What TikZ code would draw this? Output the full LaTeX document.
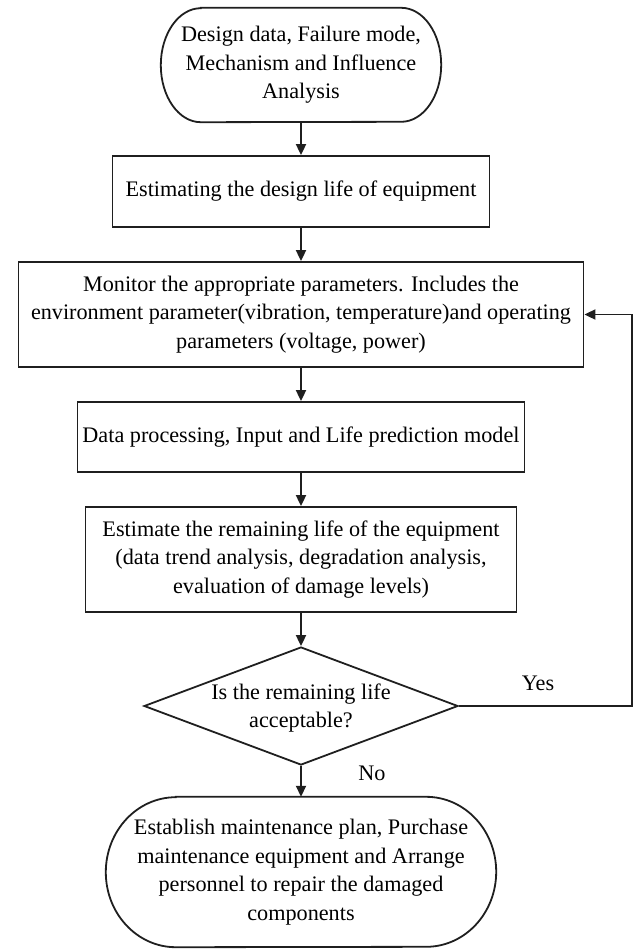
\documentclass[tikz,border=0pt]{standalone}
\usepackage{fontspec}
\setmainfont{Liberation Serif}
\usetikzlibrary{arrows.meta,shapes.geometric}

% outline of a terminal box: straight top and bottom, elliptic ends
\newcommand\termoutline[3]{%
  \draw[flow] ([xshift=#2]#1.north west) -- ([xshift=-#2]#1.north east)
    arc[start angle=90,end angle=-90,x radius=#2,y radius=#3]
    -- ([xshift=#2]#1.south west)
    arc[start angle=270,end angle=90,x radius=#2,y radius=#3] -- cycle;}

\begin{document}
\begin{tikzpicture}[x=1pt,y=-1pt,
  every node/.style={font=\rmfamily\fontsize{22.2}{28.5}\selectfont, align=center, inner sep=0pt},
  flow/.style={line width=1.8pt, draw=black!88},
  procbox/.style={flow, rectangle, draw},
  termbox/.style={rectangle},
  conn/.style={flow, -{Triangle[length=11pt,width=10pt]}},
  tag/.style={anchor=center},
]
\useasboundingbox (0,0) rectangle (635,950);

% terminals and process boxes
\node[termbox, minimum width=280pt, minimum height=114pt] (start) at (301,65)
  {Design data, Failure mode,\\Mechanism and Influence\\Analysis};
\termoutline{start}{40pt}{57pt}

\node[procbox, minimum width=377pt, minimum height=71pt] (design) at (301,191.5)
  {Estimating the design life of equipment};

\node[procbox, minimum width=565pt, minimum height=105pt] (monitor) at (301,314.5)
  {Monitor the appropriate parameters. Includes the\\environment parameter(vibration, temperature)and operating\\parameters (voltage, power)};

\node[procbox, minimum width=447pt, minimum height=70pt] (model) at (301,437)
  {Data processing, Input and Life prediction model};

\node[procbox, minimum width=431pt, minimum height=105pt] (remain) at (301,559.5)
  {Estimate the remaining life of the equipment\\(data trend analysis, degradation analysis,\\evaluation of damage levels)};

\node[diamond, flow, draw, minimum width=314pt, minimum height=118pt,
  label={[align=center, yshift=-2pt]center:Is the remaining life\\acceptable?}] (check) at (301,706) {};

\node[termbox, minimum width=390pt, minimum height=150pt] (stop) at (301,872)
  {Establish maintenance plan, Purchase\\maintenance equipment and Arrange\\personnel to repair the damaged\\components};
\termoutline{stop}{70pt}{75pt}

% connectors
\draw[conn] (start.south) -- (design.north);
\draw[conn] (design.south) -- (monitor.north);
\draw[conn] (monitor.south) -- (model.north);
\draw[conn] (model.south) -- (remain.north);
\draw[conn] (remain.south) -- (check.north);
\draw[conn] (check.south) -- (stop.north);

\coordinate (loop) at (632,706);
\draw[conn] (check.east) -- (loop) |- (monitor.east);

\node[tag] (yes) at (538,683) {Yes};
\node[tag] (no) at (372,773) {No};
\end{tikzpicture}
\end{document}
